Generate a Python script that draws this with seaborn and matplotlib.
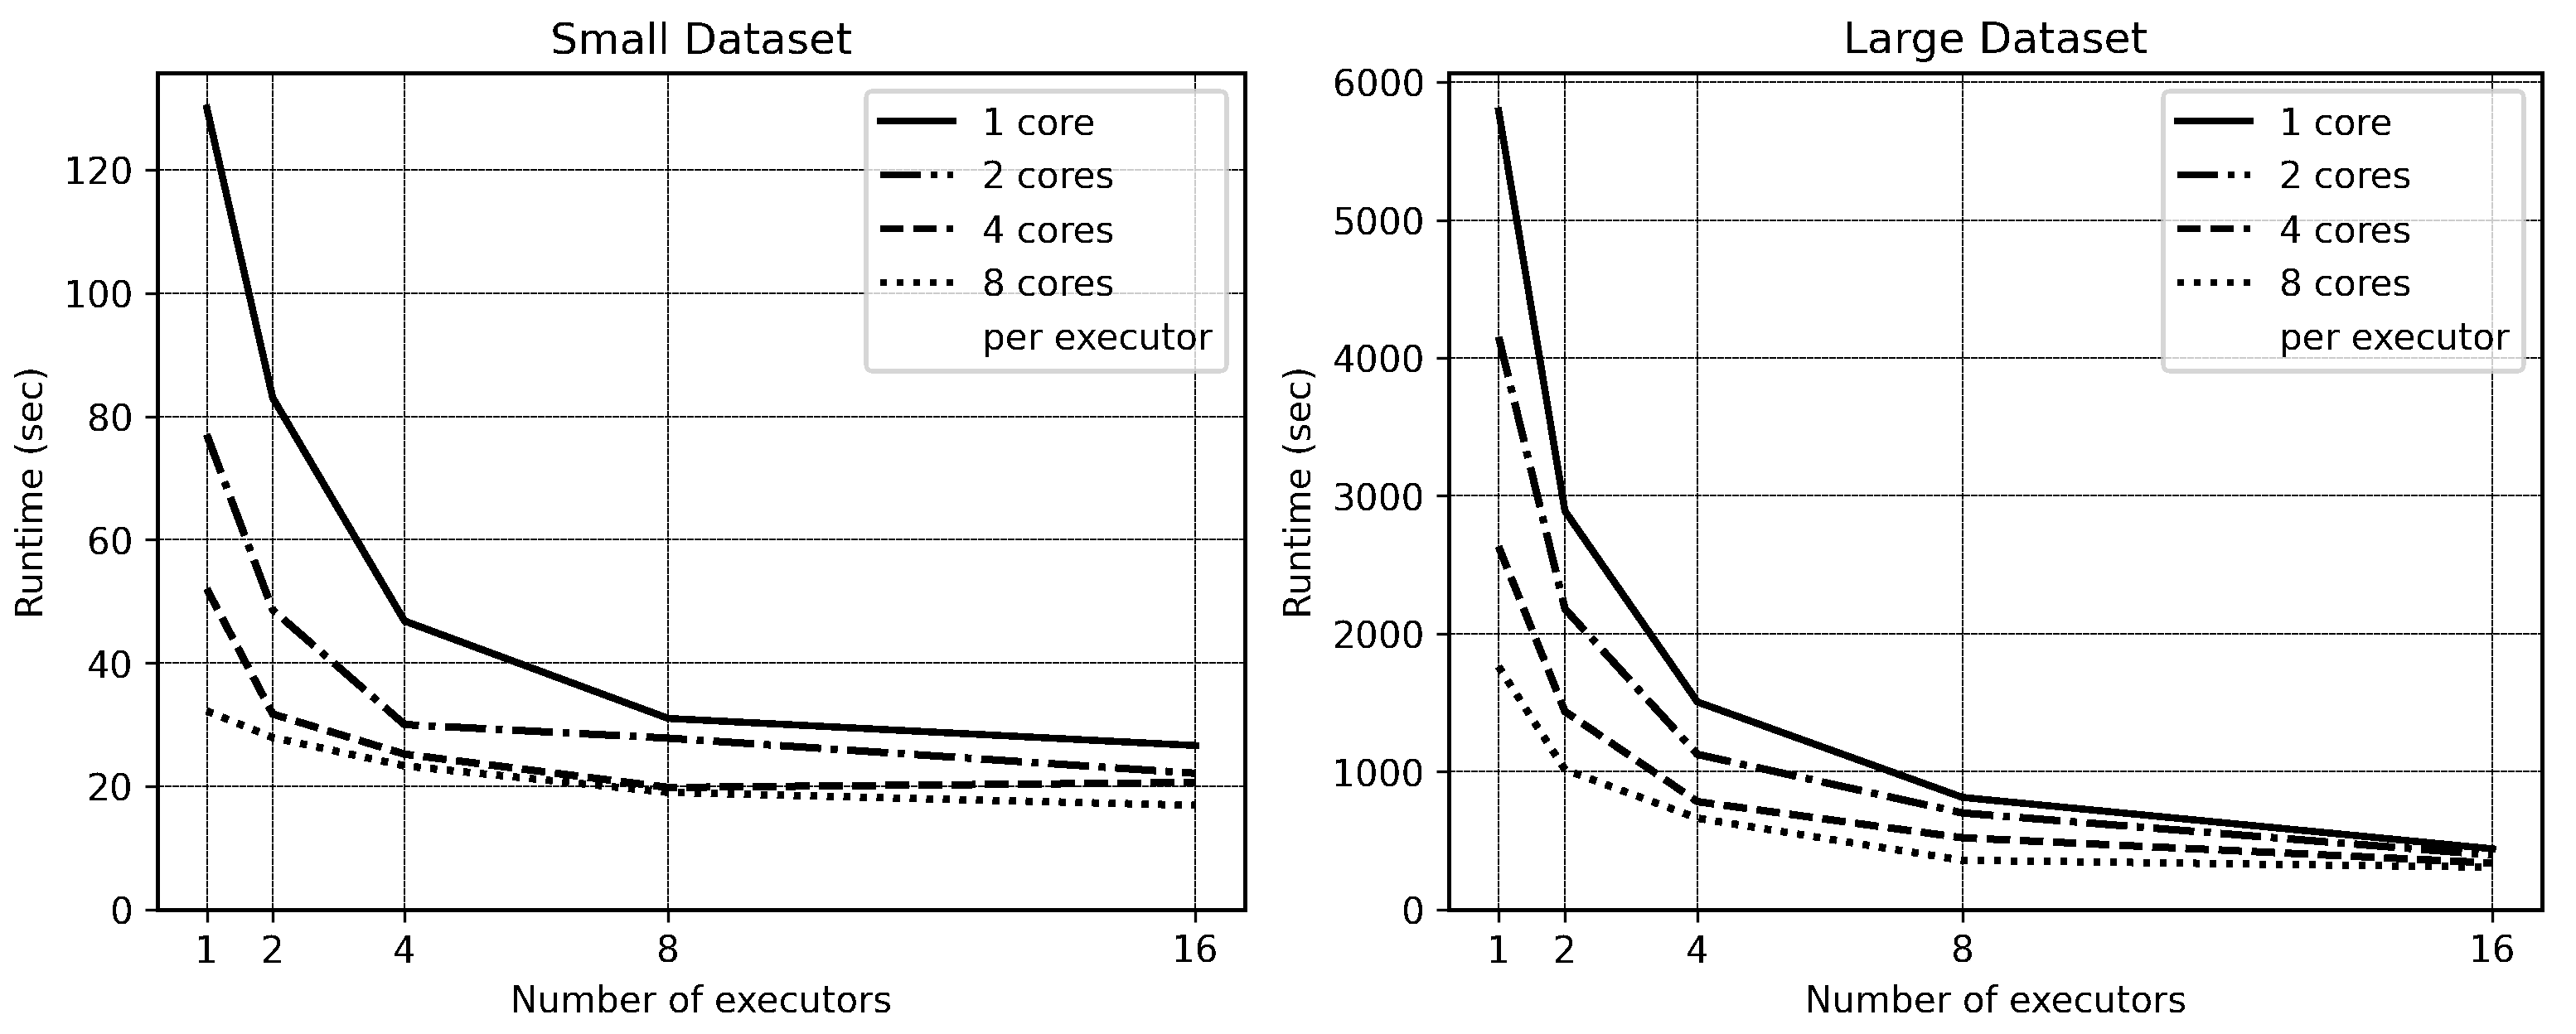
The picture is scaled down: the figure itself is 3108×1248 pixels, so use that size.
import matplotlib
matplotlib.use("Agg")
import matplotlib.pyplot as plt
from matplotlib.lines import Line2D
import seaborn as sns
import pandas as pd

executors = [1, 2, 4, 8, 16]
series_labels = ["1 core", "2 cores", "4 cores", "8 cores"]

small_1core = [130.0, 83.0, 46.8, 31.0, 26.6]
small_2cores = [77.0, 48.6, 30.0, 27.8, 22.1]
small_4cores = [52.0, 31.7, 25.2, 19.8, 20.6]
small_8cores = [32.2, 27.9, 23.3, 19.0, 16.9]

large_1core = [5790, 2890, 1505, 813, 440]
large_2cores = [4150, 2180, 1125, 700, 395]
large_4cores = [2630, 1436, 782, 520, 338]
large_8cores = [1760, 1015, 662, 357, 307]

titles = ["Small Dataset", "Large Dataset"]
small_yticks = [0, 20, 40, 60, 80, 100, 120]
large_yticks = [0, 1000, 2000, 3000, 4000, 5000, 6000]
extra_legend_text = "per executor"

linestyles = ["-", "-.", "--", ":"]

plt.rcParams["font.family"] = ["DejaVu Sans"]
plt.rcParams["font.size"] = 10.5
plt.rcParams["lines.antialiased"] = False
plt.rcParams["patch.antialiased"] = False
plt.rcParams["text.antialiased"] = False

fig = plt.figure(figsize=(10.36, 4.163), dpi=300)
ax1 = fig.add_axes([0.0611, 0.1203, 0.4222, 0.8082])
ax2 = fig.add_axes([0.5625, 0.1203, 0.4244, 0.8082])

datasets = [
    (ax1, [small_1core, small_2cores, small_4cores, small_8cores], small_yticks, titles[0]),
    (ax2, [large_1core, large_2cores, large_4cores, large_8cores], large_yticks, titles[1]),
]

for ax, series, yticks, title in datasets:
    for vals, lab, ls in zip(series, series_labels, linestyles):
        df = pd.DataFrame({"executors": executors, "runtime": vals})
        sns.lineplot(data=df, x="executors", y="runtime", ax=ax,
                     color="black", linewidth=1.8, linestyle=ls, label=lab,
                     legend=False, antialiased=False)
    ax.set_xticks(executors)
    ax.set_xticklabels([str(e) for e in executors])
    ax.set_yticks(yticks)
    ax.set_ylim(bottom=0)
    ax.set_xlabel("Number of executors", fontsize=10.5)
    ax.set_ylabel("Runtime (sec)", fontsize=10.5)
    ax.set_title(title, fontsize=12.5)
    ax.grid(True, color="black", linestyle=(0, (4.5, 1.1)), linewidth=0.4,
            antialiased=False)
    ax.tick_params(labelsize=10.5)
    for sp in ax.spines.values():
        sp.set_linewidth(0.8)
        sp.set_antialiased(False)
    handles, labels = ax.get_legend_handles_labels()
    handles.append(Line2D([], [], color="none"))
    labels.append(extra_legend_text)
    ax.legend(handles, labels, loc="upper right", fontsize=10.5)

fig.savefig("out.png", dpi=300)
